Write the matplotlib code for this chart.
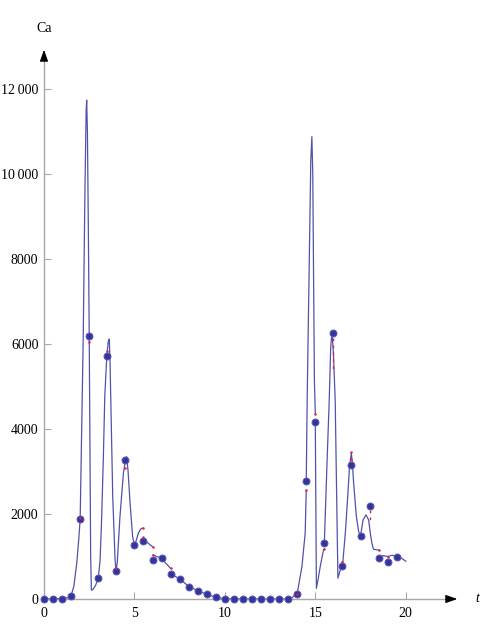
import numpy as np
import matplotlib.pyplot as plt

plt.rcParams['font.family'] = ['Liberation Serif', 'DejaVu Serif']

# measured data points (t, Ca)
t_obs = np.arange(0, 20, 0.5)
ca_obs = [0, 0, 0, 70, 1880, 6180, 490, 5710, 670, 3270,
          1260, 1360, 920, 960, 600, 470, 290, 195, 110, 40,
          0, 0, 0, 0, 0, 0, 0, 0, 120, 2780,
          4160, 1320, 6260, 770, 3150, 1490, 2200, 970, 870, 990]

# fitted curve (nan = break between pieces)
nan = np.nan
curve_t = [0, 0.5, 1.0, 1.3, 1.5, 1.65, 1.81, 1.92, 2.0, 2.08, 2.17, 2.26, 2.33, 2.36,
           2.40, 2.45, 2.5, 2.54, 2.58, 2.62, 2.7, 2.85, 3.0, 3.1, 3.19, 3.28, 3.36,
           3.47, 3.55, 3.61, 3.65, 3.69, 3.8, 3.93, 3.98, 4.05, 4.2, 4.39, 4.5, 4.57,
           4.65, 4.76, 4.9, 5.0, 5.1, 5.22, 5.35, 5.48, nan,
           5.5, 5.65, 5.8, 6.0, nan,
           6.03, 6.23, 6.5, 6.7, 6.85, 7.0, nan,
           7.0, 7.5, 8.0, 8.5, 9.0, 9.5, 10.0, 10.5, 11, 12, 13, 13.5, 13.7, 14.0,
           14.26, 14.44, 14.5, nan,
           14.5, 14.55, 14.65, 14.75, 14.81, 14.86, 14.95, 15.0, nan,
           15.0, 15.03, 15.06, 15.15, 15.27, 15.45, 15.5, nan,
           15.5, 15.64, 15.77, 15.85, 15.92, 16.0, 16.1, 16.2, 16.25, 16.38, 16.5, nan,
           16.5, 16.66, 16.78, 16.89, 16.99, 17.05, 17.12, 17.27, 17.4, 17.5, 17.64,
           17.8, 17.95, 18.04, 18.13, 18.22, 18.5, nan,
           18.5, 18.77, 19.0, 19.25, 19.5, 19.7, 20.0]
curve_ca = [0, 0, 10, 30, 80, 300, 840, 1400, 1880, 3980, 6200, 9500, 11500, 11740,
            11000, 8800, 6200, 3500, 1000, 210, 220, 320, 490, 900, 1940, 3300, 4760,
            5700, 6050, 6120, 5600, 4760, 2410, 920, 680, 850, 1940, 2960, 3250, 3350,
            3000, 2250, 1470, 1260, 1380, 1550, 1650, 1670, nan,
            1360, 1350, 1300, 1230, nan,
            1040, 1000, 960, 860, 790, 720, nan,
            600, 470, 300, 195, 110, 40, 5, 0, 0, 0, 0, 0, 30, 130,
            760, 1550, 2560, nan,
            2780, 4680, 7500, 10300, 10880, 10000, 5150, 4350, nan,
            4160, 2000, 250, 450, 760, 1150, 1180, nan,
            1320, 3110, 4680, 5900, 6290, 5800, 4680, 1800, 490, 680, 880, nan,
            760, 1550, 2330, 3110, 3430, 3200, 2720, 1940, 1580, 1490, 1860,
            1980, 1860, 1550, 1310, 1170, 1150, nan,
            970, 1020, 1000, 1030, 1000, 980, 890]

# red ends of the fitted pieces
red_t = [2.0, 2.5, 3.5, 4.0, 4.5, 5.5, 5.5, 6.0, 6.0, 7.0, 14.0, 14.5, 15.0,
         15.5, 16.5, 17.0, 17.0, 18.5, 19.0]
red_ca = [1900, 6040, 5840, 720, 3080, 1670, 1470, 1230, 1040, 720, 120, 2560, 4350,
          1180, 880, 3450, 3290, 1150, 1000]
red_dash_t = [15.98, 18.0]
red_dash_top = [6150, 2100]
red_dash_bot = [5350, 1760]

fig = plt.figure(figsize=(4.8, 6.4), dpi=100)
ax = fig.add_axes([44/480, 41/640, 416/480, 552/640])
ax.set_xlim(0, 23.0)
ax.set_ylim(0, 12990)

ax.plot(curve_t, curve_ca, color='#5252aa', lw=0.9, zorder=2)
for t, a, b in zip(red_dash_t, red_dash_top, red_dash_bot):
    ax.plot([t, t], [a, b], color='#e0203a', lw=1.0, ls=(0, (2, 3)), zorder=3)
ax.plot(t_obs, ca_obs, 'o', ms=5, mfc='#34349a', mec='#5a5ab6', mew=0.7,
        zorder=4, clip_on=False)
ax.plot(red_t, red_ca, 'o', ms=1.8, color='#e8203a', mew=0, zorder=5, clip_on=False)

# Mathematica-like axes
for s in ax.spines.values():
    s.set_visible(False)
ax.plot([0, 22.6], [0, 0], color='#a8a8a8', lw=1.0, clip_on=False, zorder=1)
ax.plot([0, 0], [0, 12700], color='#a8a8a8', lw=1.0, clip_on=False, zorder=1)
ax.annotate('', xy=(23.0, 0), xytext=(22.3, 0),
            arrowprops=dict(arrowstyle='-|>,head_length=0.7,head_width=0.25',
                            color='black', lw=0.8), annotation_clip=False)
ax.annotate('', xy=(0, 12990), xytext=(0, 12600),
            arrowprops=dict(arrowstyle='-|>,head_length=0.7,head_width=0.25',
                            color='black', lw=0.8), annotation_clip=False)

xt = [0, 5, 10, 15, 20]
yt = [0, 2000, 4000, 6000, 8000, 10000, 12000]
yt_labels = ['0', '2000', '4000', '6000', '8000', '10\u2009000', '12\u2009000']
ax.set_xticks(xt)
ax.set_xticklabels([str(v) for v in xt])
ax.set_yticks(yt)
ax.set_yticklabels(yt_labels)
ax.tick_params(axis='x', direction='in', length=5, width=0.8, color='#a8a8a8',
               pad=6, labelsize=10)
ax.tick_params(axis='y', direction='in', length=5, width=0.8, color='#a8a8a8',
               pad=4, labelsize=10)

fig.text(44/480, 1 - 28/640, 'Ca', ha='center', va='center', fontsize=10)
fig.text(477/480, 1 - 599/640, 't', ha='center', va='center', fontsize=10,
         style='italic')

fig.savefig('out.png', dpi=100)
